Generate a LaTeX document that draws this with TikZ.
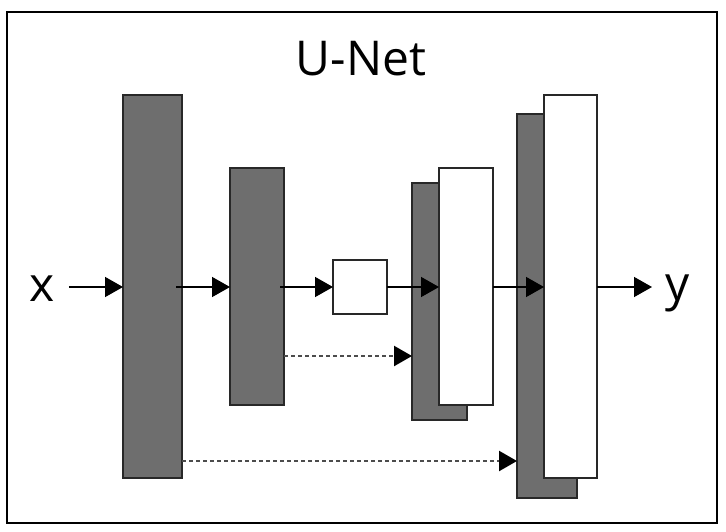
\documentclass[tikz,border=0pt]{standalone}
\usepackage{fontspec}
\setmainfont{Open Sans}
\usetikzlibrary{arrows.meta}
\definecolor{blockgray}{RGB}{110,110,110}
\definecolor{linegray}{RGB}{40,40,40}
\tikzset{
  blk/.style={draw=linegray, line width=1.6pt, inner sep=0pt, outer sep=0pt, anchor=north west},
  darkblk/.style={blk, fill=blockgray},
  whiteblk/.style={blk, fill=white},
  arr/.style={draw=black, line width=1.5pt, -{Triangle[length=18pt,width=20pt]}},
  dotarr/.style={draw=black!70, line width=2.4pt, dash pattern=on 4pt off 3pt, -{Triangle[length=18pt,width=20pt,color=black,fill=black]}},
  lbl/.style={font=\fontsize{48}{56}\selectfont, inner ysep=0pt}
}
\begin{document}
\begin{tikzpicture}[x=1pt,y=-1pt]
\useasboundingbox (0,0) rectangle (726,531);
\draw[line width=1.8pt] (7,12) rectangle (717,523);
\node[lbl, anchor=base] (title) at (361,75) {U-Net};
% blocks
\node[darkblk, minimum width=59pt, minimum height=383pt] (e1) at (123,95) {};
\node[darkblk, minimum width=54pt, minimum height=237pt] (e2) at (230,168) {};
\node[whiteblk, minimum width=54pt, minimum height=54pt] (bn) at (333,260) {};
\node[darkblk, minimum width=55pt, minimum height=237pt] (d1a) at (412,183) {};
\node[whiteblk, minimum width=54pt, minimum height=237pt] (d1b) at (439,168) {};
\node[darkblk, minimum width=60pt, minimum height=384pt] (d2a) at (517,114) {};
\node[whiteblk, minimum width=53pt, minimum height=383pt] (d2b) at (544,95) {};
% labels
\node[lbl, anchor=base, inner xsep=14pt] (xin) at (42,301) {x};
\node[lbl, anchor=base west, inner xsep=13pt] (yout) at (652,300) {y};
\coordinate (row) at (0,287);
\coordinate (s1) at (0,356);
\coordinate (s2) at (0,461);
% main arrows
\draw[arr] (xin.east |- row) -- (e1.west |- row);
\draw[arr] ([xshift=-6pt]e1.east |- row) -- (e2.west |- row);
\draw[arr] ([xshift=-4pt]e2.east |- row) -- (bn.west |- row);
\draw[arr] (bn.east |- row) -- (d1b.west |- row);
\draw[arr] (d1b.east |- row) -- (d2b.west |- row);
\draw[arr] (d2b.east |- row) -- (yout.west |- row);
% skip connections
\draw[dotarr] (e2.east |- s1) -- (d1a.west |- s1);
\draw[dotarr] (e1.east |- s2) -- (d2a.west |- s2);
\end{tikzpicture}
\end{document}
